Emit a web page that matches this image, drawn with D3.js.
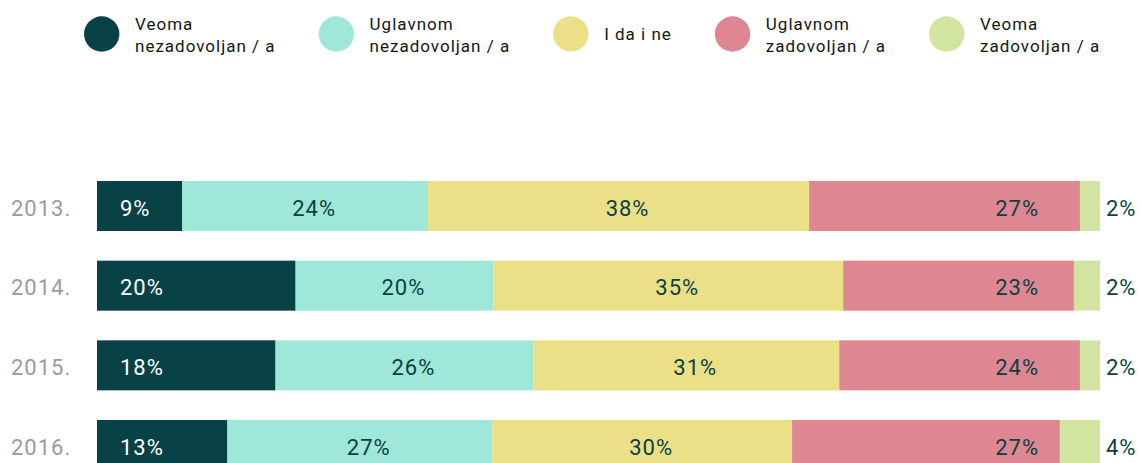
<!DOCTYPE html>
<html>
<head>
<meta charset="utf-8">
<script src="https://cdn.jsdelivr.net/npm/d3@7"></script>
<style>
  html, body { margin: 0; padding: 0; background: #fff; }
  svg { display: block; font-family: Roboto, "DejaVu Sans", sans-serif; }
</style>
</head>
<body>
<svg id="chart" width="1142" height="463"></svg>
<script>
// data
const years = ["2013.", "2014.", "2015.", "2016."];
const seriesNames = ["Veoma nezadovoljan / a", "Uglavnom nezadovoljan / a", "I da i ne", "Uglavnom zadovoljan / a", "Veoma zadovoljan / a"];
const legendLines = [["Veoma", "nezadovoljan / a"], ["Uglavnom", "nezadovoljan / a"], ["I da i ne"], ["Uglavnom", "zadovoljan / a"], ["Veoma", "zadovoljan / a"]];
const colors = ["#084146", "#9fe7d9", "#ebdf88", "#df8693", "#d1e4a0"];
// printed percentages
const labels = [
  [9, 24, 38, 27, 2],
  [20, 20, 35, 23, 2],
  [18, 26, 31, 24, 2],
  [13, 27, 30, 27, 4]
];
// shares as drawn (bar widths, %)
const shares = [
  [8.5, 24.5, 38.0, 27.0, 2.0],
  [19.8, 19.7, 34.9, 23.0, 2.6],
  [17.8, 25.7, 30.5, 24.0, 2.0],
  [13.0, 26.4, 29.9, 26.7, 4.0]
];

const svg = d3.select("#chart");
const textDark = "#0c3f44";

const x = d3.scaleLinear().domain([0, 100]).range([97, 1100]);
const y = d3.scaleBand().domain(years).range([181, 470]).paddingInner(0.3724).paddingOuter(0);

// legend (flow layout)
const legend = svg.append("g").attr("class", "legend");
let lx = 84;
legendLines.forEach((lines, i) => {
  const g = legend.append("g").attr("transform", `translate(${lx},0)`);
  g.append("circle").attr("cx", 17.7).attr("cy", 34).attr("r", 17.7).attr("fill", colors[i]);
  const t = g.append("text")
    .attr("x", 51)
    .attr("font-size", 17)
    .attr("letter-spacing", 1)
    .attr("fill", "#151515");
  const baseY = lines.length === 1 ? 40 : 29.5;
  lines.forEach((ln, j) => {
    t.append("tspan").attr("x", 51).attr("y", baseY + j * 22).text(ln);
  });
  const w = d3.max(t.selectAll("tspan").nodes(), n => n.getComputedTextLength());
  lx += 51 + w + 43;
});

// rows
const rows = svg.append("g").selectAll("g.row")
  .data(years.map((yr, r) => {
    const tot = d3.sum(shares[r]);
    let acc = 0;
    const segs = shares[r].map((v, k) => {
      const s = { k, x0: acc / tot * 100, x1: (acc + v) / tot * 100, label: labels[r][k] };
      acc += v;
      return s;
    });
    return { yr, segs };
  }))
  .join("g")
  .attr("class", "row")
  .attr("transform", d => `translate(0,${y(d.yr)})`);

rows.append("text")
  .attr("x", 11)
  .attr("y", 34.5)
  .attr("font-size", 22)
  .attr("letter-spacing", 1)
  .attr("fill", "#9b9b9b")
  .text(d => d.yr);

rows.selectAll("rect")
  .data(d => d.segs)
  .join("rect")
  .attr("x", s => x(s.x0))
  .attr("width", s => x(s.x1) - x(s.x0))
  .attr("y", 0)
  .attr("height", y.bandwidth())
  .attr("fill", s => colors[s.k]);

rows.selectAll("text.val")
  .data(d => d.segs)
  .join("text")
  .attr("class", "val")
  .attr("y", 34.5)
  .attr("font-size", 22)
  .attr("letter-spacing", 1)
  .attr("fill", s => s.k === 0 ? "#ffffff" : textDark)
  .attr("text-anchor", s => s.k === 3 ? "end" : (s.k === 1 || s.k === 2) ? "middle" : "start")
  .attr("x", s => {
    if (s.k === 0) return x(s.x0) + 23;
    if (s.k === 3) return x(100) - 61;
    if (s.k === 4) return x(100) + 6;
    return (x(s.x0) + x(s.x1)) / 2 + 9;
  })
  .text(s => s.label + "%");
</script>
</body>
</html>
